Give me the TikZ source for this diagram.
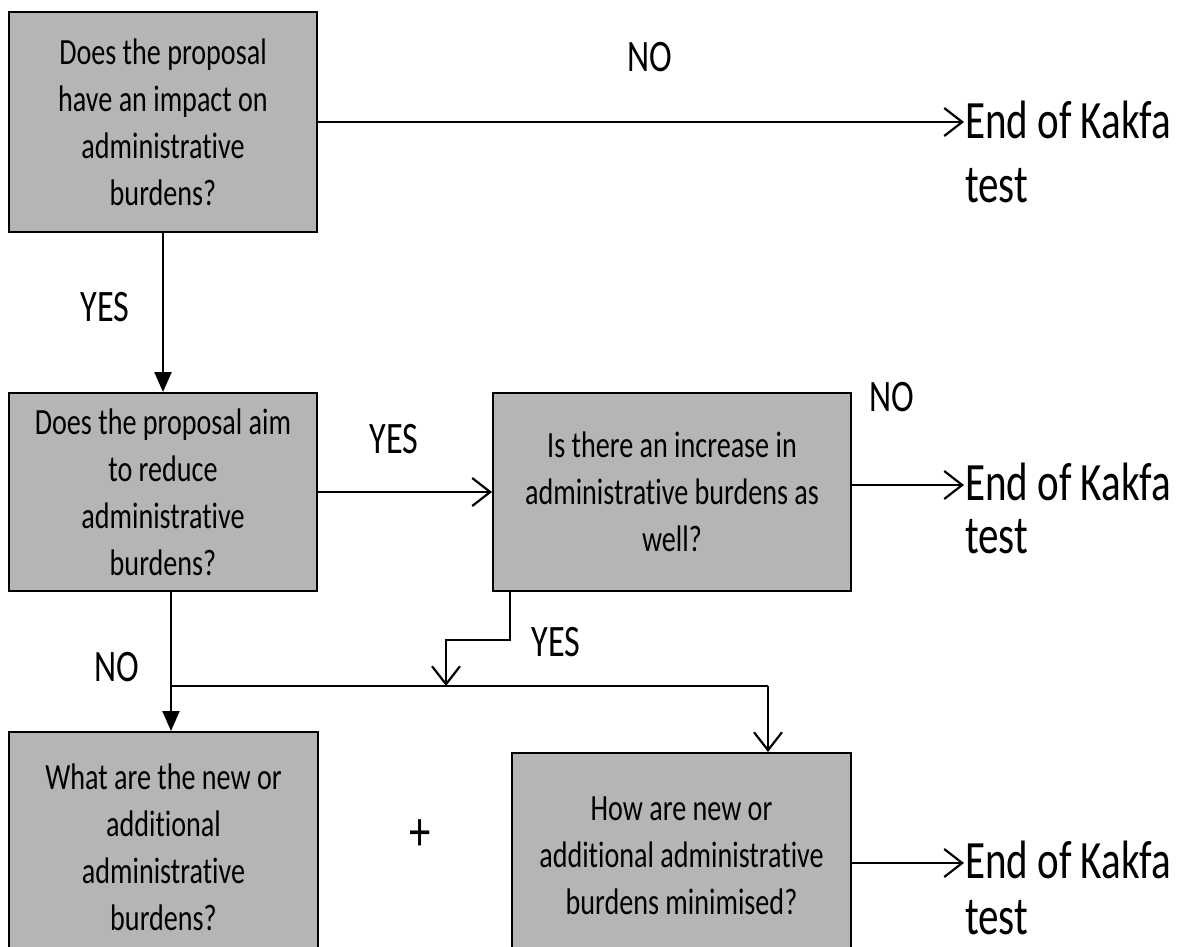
\documentclass[tikz,border=0pt]{standalone}
\usepackage{fontspec}
\setmainfont{Carlito}[FakeStretch=0.76,Ligatures=NoCommon]
\usetikzlibrary{arrows.meta}
\definecolor{boxgray}{RGB}{181,181,181}

\begin{document}
\begin{tikzpicture}[x=1pt,y=-1pt,line width=2.2pt,line join=miter,
  question/.style={draw,fill=boxgray,line width=2pt,inner sep=0pt,align=center,
    font=\fontsize{37}{47}\selectfont},
  answer/.style={inner sep=0pt,font=\fontsize{45}{50}\selectfont},
  finish/.style={anchor=north west,align=left,inner sep=0pt},
  opentip/.style={-{Straight Barb[length=18pt,width=28pt]}},
  filledtip/.style={-{Triangle[length=20pt,width=17pt]}}]
\useasboundingbox (0,0) rectangle (1180,946);
% questions
\node[question,minimum width=308pt,minimum height=220pt] (q1) at (163,122)
  {Does the proposal\\have an impact on\\administrative\\burdens?};
\node[question,minimum width=308pt,minimum height=198pt] (q2) at (163,492)
  {Does the proposal aim\\to reduce\\administrative\\burdens?};
\node[question,minimum width=358pt,minimum height=198pt] (q3) at (672,492)
  {Is there an increase in\\administrative burdens as\\well?};
\node[question,minimum width=309pt,minimum height=230pt] (q4) at (163.5,847)
  {What are the new or\\additional\\administrative\\burdens?};
\node[question,minimum width=339pt,minimum height=206pt] (q5) at (681.5,856)
  {How are new or\\additional administrative\\burdens minimised?};
% ends
\node[finish,font=\fontsize{54}{64}\selectfont] (end1) at (964,100) {End of Kakfa\\test};
\node[finish,font=\fontsize{54}{53}\selectfont] (end2) at (964,462) {End of Kakfa\\test};
\node[finish,font=\fontsize{54}{56}\selectfont] (end3) at (964,840) {End of Kakfa\\test};
% answers
\node[answer] (no1) at (650,57) {NO};
\node[answer] (yes1) at (105,307) {YES};
\node[answer] (yes2) at (394,439) {YES};
\node[answer] (no2) at (892,397) {NO};
\node[answer] (yes3) at (556,642) {YES};
\node[answer] (no3) at (117,667) {NO};
\node[answer,font=\fontsize{56}{60}\selectfont] (plus) at (420,835) {+};
% connectors
\coordinate (join) at (171,686);
\coordinate (drop) at (768,686);
\coordinate (merge) at (446,686);
\draw[opentip] (q1.east) -- (q1.east -| end1.west);
\draw[filledtip] (q1) -- (q2);
\draw[opentip] (q2) -- (q3);
\draw[opentip] ([yshift=7pt]q3.east) -- ([yshift=7pt]q3.east -| end2.west);
\draw[opentip] ([xshift=-162pt]q3.south) -- ++(0,48) -| (merge);
\draw[filledtip] ([xshift=8pt]q2.south) -- ([xshift=8pt]q2.south |- q4.north);
\draw (join) -- (drop);
\draw[opentip] (drop) -- (drop |- q5.north);
\draw[opentip] ([yshift=-7pt]q5.east) -- ([yshift=-7pt]q5.east -| end3.west);
\end{tikzpicture}
\end{document}
